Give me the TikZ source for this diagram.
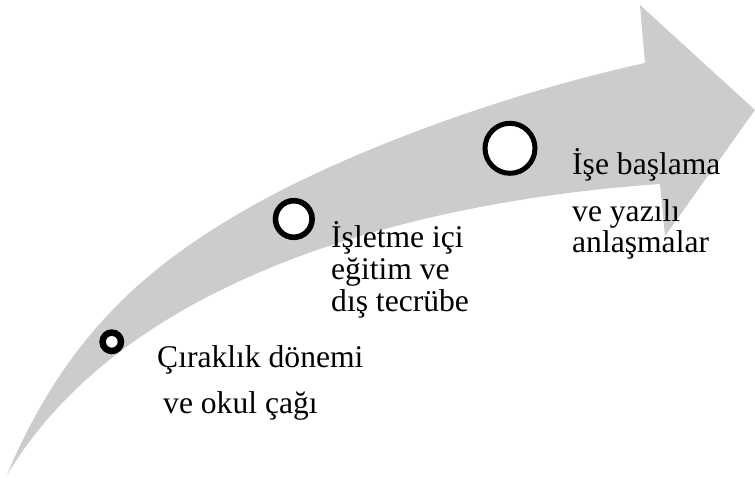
\documentclass[tikz,border=0pt]{standalone}
\usepackage{fontspec}
\setmainfont{Liberation Serif}
\definecolor{arrowgray}{RGB}{204,204,204}
\begin{document}
\begin{tikzpicture}[x=1pt,y=-1pt,
  ring/.style={draw=black,fill=white,circle},
  lbl/.style={anchor=base west,inner sep=0pt,font=\fontsize{31.6}{31.6}\selectfont}]
\useasboundingbox (0,0) rectangle (755,478);
% arrow body
\fill[arrowgray] (7,475) .. controls (67,331) and (153,265) .. (233,217)
  .. controls (333,157) and (495,96) .. (645,63)
  -- (640,5) -- (755,110) -- (665,236) -- (660,184)
  .. controls (430,200) and (130,270) .. (7,475) -- cycle;
% circles
\draw[ring,line width=6.5pt] (111.8,341.8) circle[radius=9.2];
\draw[ring,line width=5.6pt] (293.8,219) circle[radius=18.3];
\draw[ring,line width=5pt] (510,148.3) circle[radius=25];
% labels
\node[lbl] (a1) at (157,367) {Çıraklık dönemi};
\node[lbl] (a2) at (163,413) {ve okul çağı};
\node[lbl] (b1) at (331,248) {İşletme içi};
\node[lbl] (b2) at (331,280) {eğitim ve};
\node[lbl] (b3) at (331,311.5) {dış tecrübe};
\node[lbl] (c1) at (572,175) {İşe başlama};
\node[lbl] (c2) at (572,221.5) {ve yazılı};
\node[lbl] (c3) at (572,253) {anlaşmalar};
\end{tikzpicture}
\end{document}
